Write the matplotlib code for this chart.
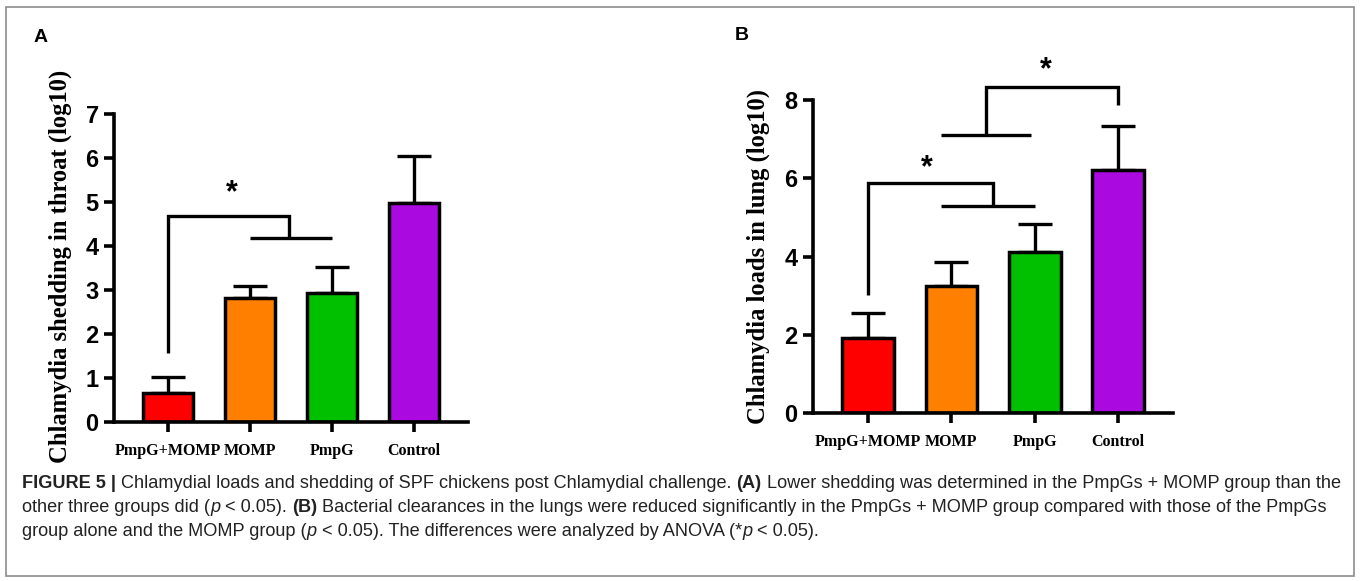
import numpy as np
import matplotlib
matplotlib.use("Agg")
import matplotlib.pyplot as plt
from matplotlib import font_manager
from matplotlib.patches import Rectangle

# data
groups = ["PmpG+MOMP", "MOMP", "PmpG", "Control"]
colors = ["#ff0000", "#ff8000", "#00c000", "#aa0ae0"]

throat_mean = [0.66, 2.82, 2.93, 4.98]
throat_sem = [0.37, 0.28, 0.60, 1.07]

lung_mean = [1.92, 3.25, 4.12, 6.21]
lung_sem = [0.64, 0.62, 0.71, 1.13]

caption_lines = [
    [("FIGURE 5 | ", "bold", "normal"),
     ("Chlamydial loads and shedding of SPF chickens post Chlamydial challenge. ", "normal", "normal"),
     ("(A)", "bold", "normal"),
     (" Lower shedding was determined in the PmpGs + MOMP group than the", "normal", "normal")],
    [("other three groups did (", "normal", "normal"), ("p", "normal", "italic"),
     (" < 0.05). ", "normal", "normal"), ("(B)", "bold", "normal"),
     (" Bacterial clearances in the lungs were reduced significantly in the PmpGs + MOMP group compared with those of the PmpGs",
      "normal", "normal")],
    [("group alone and the MOMP group (", "normal", "normal"), ("p", "normal", "italic"),
     (" < 0.05). The differences were analyzed by ANOVA (*", "normal", "normal"),
     ("p", "normal", "italic"), (" < 0.05).", "normal", "normal")],
]


def has_font(name):
    try:
        font_manager.findfont(font_manager.FontProperties(family=name), fallback_to_default=False)
        return True
    except Exception:
        return False


narrow = "Liberation Sans Narrow" if has_font("Liberation Sans Narrow") else "Liberation Sans"
serif = "Liberation Serif"

fig = plt.figure(figsize=(13.6, 5.81), dpi=100)
W, H = 1360, 581

# outer frame
fig.patches.append(Rectangle((6 / W, 5 / H), 1348 / W, 569 / H, transform=fig.transFigure,
                             fill=False, edgecolor="#8c8c8c", linewidth=1.2))


def panel(rect, means, sems, ymax, step, ylabel):
    ax = fig.add_axes(rect)
    x = np.arange(len(groups))
    ax.bar(x, means, width=0.62, color=colors, edgecolor="black", linewidth=2.5, zorder=2)
    ax.errorbar(x, means, yerr=[np.zeros(len(sems)), sems], fmt="none", ecolor="black",
                elinewidth=2.4, capsize=12, capthick=2.4, zorder=1)
    ax.set_xlim(-0.66, 3.66)
    ax.set_ylim(0, ymax)
    ax.set_yticks(np.arange(0, ymax + 0.1, step))
    ax.set_xticks(x)
    ax.set_xticklabels(groups, fontfamily=serif, fontweight="bold", fontsize=11.5)
    for lab in ax.get_yticklabels():
        lab.set_fontfamily(narrow)
        lab.set_fontweight("bold")
        lab.set_fontsize(17)
    for s in ["top", "right"]:
        ax.spines[s].set_visible(False)
    for s in ["left", "bottom"]:
        ax.spines[s].set_linewidth(2.6)
    ax.tick_params(axis="both", width=2.6, length=7)
    ax.tick_params(axis="x", pad=8)
    ax.tick_params(axis="y", pad=4)
    ax.set_ylabel(ylabel, fontfamily=serif, fontweight="bold", fontsize=17.7)
    return ax


def bracket(ax, pts):
    xs, ys = zip(*pts)
    ax.plot(xs, ys, color="black", lw=2.4, clip_on=False, solid_capstyle="butt",
            solid_joinstyle="miter")


def star(ax, x, y):
    ax.text(x, y, "*", ha="center", va="center", fontsize=22, fontweight="bold",
            fontfamily="Liberation Sans", clip_on=False)


# panel A
axA = panel([114 / W, 1 - 422 / H, 354 / W, 308 / H], throat_mean, throat_sem, 7, 1,
            "Chlamydia shedding in throat (log10)")
axA.yaxis.set_label_coords(-0.119, 0.505)
bracket(axA, [(0, 1.57), (0, 4.68), (1.48, 4.68), (1.48, 4.18)])
bracket(axA, [(1.0, 4.18), (2.0, 4.18)])
star(axA, 0.78, 5.2)

# panel B
axB = panel([813 / W, 1 - 413 / H, 360 / W, 313 / H], lung_mean, lung_sem, 8, 2,
            "Chlamydia loads in lung (log10)")
axB.yaxis.set_label_coords(-0.12, 0.5)
bracket(axB, [(0, 3.02), (0, 5.87), (1.5, 5.87), (1.5, 5.28)])
bracket(axB, [(0.87, 5.28), (2.0, 5.28)])
star(axB, 0.71, 6.25)
bracket(axB, [(0.87, 7.11), (1.95, 7.11)])
bracket(axB, [(1.41, 7.11), (1.41, 8.34), (3.0, 8.34), (3.0, 7.88)])
star(axB, 2.13, 8.75)

# panel letters
fig.text(41 / W, 1 - 37 / H, "A", fontsize=14, fontweight="bold", fontfamily="Liberation Sans",
         ha="center", va="center")
fig.text(742 / W, 1 - 36 / H, "B", fontsize=14, fontweight="bold", fontfamily="Liberation Sans",
         ha="center", va="center")

# caption, drawn piece by piece so bold / italic runs line up
renderer = fig.canvas.get_renderer()


def line_width(segs, size):
    total = 0
    for txt, wt, st in segs:
        t = fig.text(0, 0, txt, fontsize=size, fontweight=wt, fontstyle=st,
                     fontfamily="Liberation Sans")
        total += t.get_window_extent(renderer).width
        t.remove()
    return total


cap_size = 11.0
widest = max(line_width(caption_lines[0], cap_size), line_width(caption_lines[1], cap_size))
cap_size *= 1318 / widest

line_y = [483, 507, 531]
for segs, yy in zip(caption_lines, line_y):
    xpx = 22
    for txt, wt, st in segs:
        t = fig.text(xpx / W, 1 - yy / H, txt, fontsize=cap_size, fontweight=wt, fontstyle=st,
                     fontfamily="Liberation Sans", color="#222222", va="center")
        xpx += t.get_window_extent(renderer).width

fig.savefig("out.png", dpi=100)
